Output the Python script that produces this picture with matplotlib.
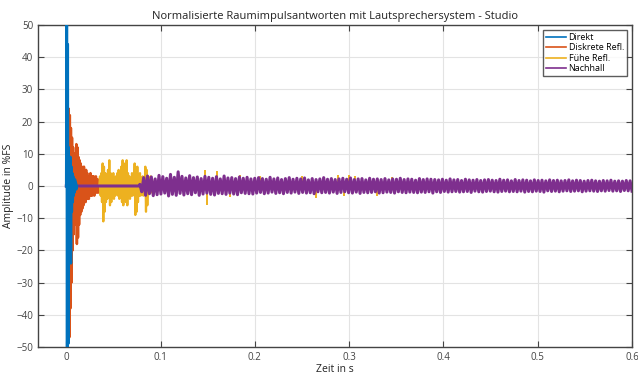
import numpy as np
import matplotlib
matplotlib.use("Agg")
import matplotlib.pyplot as plt

plt.rcParams['font.family'] = ['Open Sans', 'DejaVu Sans']

# --- data (amplitude in %FS) ---
direkt_t = (0.0, 0.011)
direkt = [0, 52, -50, 44, -49, 12, -20, 8, -10, 9, -24, 6, -8, 4, -5, 3,
          -3, 2, -2, 2, -1, 1, -1, 0]

diskret_t = (0.002, 0.036)
diskret = [0, 24, -47, 22, -38, 18, -30, 15, -20, 12, -15, 10, -12, 8, -10, 13,
           -18, 12, -16, 9, -12, 8, -9, 7, -8, 6, -7, 5, -6, 6, -5, 4, -5, 5,
           -4, 4, -4, 3, -4, 3, -3, 4, -3, 3, -3, 3, -2, 3, -3, 2, -2, 3, -2,
           2, -2, 2, -2, 1, -1, 0]

fruehe_t = (0.035, 0.093)
fruehe = [0, 3, -3, 4, -5, 7, -11, 6, -8, 4, -5, 3, -4, 5, -3, 8, -6, 4, -5, 3,
          -3, 4, -4, 2, -3, 3, -2, 4, -3, 5, -4, 3, -3, 6, -5, 8, -6, 7, -4, 5,
          -5, 8, -6, 4, -3, 3, -4, 2, -3, 4, -3, 3, -2, 7, -9, 5, -8, 6, -5, 3,
          -3, 4, -3, 2, -2, 3, -3, 2, -2, 6, -8, 5, -6, 3, -2, 2, -2, 3, -2, 2,
          -1, 1, 0]
# isolated late early-reflection spikes poking out of the reverb tail
fruehe_spike_t = [0.1475, 0.149, 0.160, 0.174, 0.184, 0.205, 0.250, 0.265,
                  0.288, 0.295, 0.300, 0.306, 0.330, 0.345]
fruehe_spike_a = [5.0, -6.0, 4.5, -3.5, 3.5, 3.2, 3.0, -3.6, 3.5, -3.2, 3.4,
                  3.0, -3.0, 2.8]

nachhall_t = (0.078, 0.6)
nachhall = [
    0.5, -1.8, 2.6, -2.9, 3.1, -2.4, 2.8, -3.0, 2.2, -2.7, 3.3, -2.5, 2.9, -2.2,
    2.4, -3.1, 3.6, -2.6, 2.7, -2.9, 4.4, -2.3, 3.0, -2.8, 2.5, -2.4, 3.2, -2.7,
    2.6, -2.1, 2.8, -2.9, 2.3, -2.5, 3.0, -2.2, 2.7, -2.6, 2.4, -2.8, 2.9, -2.3,
    2.2, -2.4, 3.1, -2.6, 2.5, -2.2, 2.6, -2.5, 2.3, -2.7, 2.8, -2.1, 2.4, -2.3,
    2.7, -2.4, 2.2, -2.5,
    2.4, -2.2, 2.6, -2.0, 2.3, -2.4, 2.1, -2.2, 2.7, -1.9, 2.2, -2.3, 2.5, -2.1,
    2.0, -2.4, 2.3, -2.0, 2.6, -2.2, 2.1, -1.9, 2.4, -2.3, 2.2, -2.0, 2.5, -2.2,
    1.9, -2.1, 2.3, -2.4, 2.0, -1.8, 2.2, -2.1, 2.6, -2.0, 2.1, -2.2, 2.3, -1.9,
    2.0, -2.3, 2.2, -2.0, 2.4, -1.8, 2.1, -2.1, 2.5, -2.2, 2.0, -1.9, 2.2, -2.3,
    2.3, -2.0, 1.9, -2.1, 2.4, -2.0, 2.1, -1.8, 2.2, -2.2, 2.0, -2.1, 2.3, -1.9,
    1.9, -2.0, 2.2, -2.2, 2.1, -1.8, 2.4, -2.0, 2.0, -2.1, 2.2, -1.9, 2.1, -2.0,
    1.8, -2.1, 2.3, -1.9, 2.0, -2.0, 2.2, -1.8, 2.1, -2.2,
    2.0, -1.8, 1.9, -2.0, 2.1, -1.7, 1.8, -1.9, 2.2, -1.8, 1.9, -1.7, 2.0, -1.9,
    1.7, -1.8, 2.1, -1.7, 1.9, -2.0, 1.8, -1.6, 2.0, -1.8, 1.7, -1.9, 1.9, -1.7,
    2.0, -1.6, 1.8, -1.8, 1.7, -1.9, 2.1, -1.7, 1.8, -1.6, 1.9, -1.8, 1.6, -1.7,
    2.0, -1.8, 1.7, -1.6, 1.9, -1.9, 1.8, -1.7, 1.6, -1.8, 1.9, -1.6, 1.7, -1.7,
    1.8, -1.9, 1.6, -1.5, 1.9, -1.7, 1.7, -1.6, 1.8, -1.8, 1.6, -1.6, 1.7, -1.5,
    1.9, -1.7, 1.6, -1.6, 1.8, -1.5, 1.7, -1.8, 1.5, -1.6, 1.7, -1.5, 1.8, -1.6,
    1.6, -1.7, 1.5, -1.5, 1.7, -1.6, 1.6, -1.4, 1.8, -1.6, 1.5, -1.5, 1.6, -1.7,
    1.5, -1.4, 1.7, -1.5, 1.6, -1.6,
]

labels = ['Direkt', 'Diskrete Refl.', 'Fühe Refl.', 'Nachhall']
colors = ['#0072BD', '#D95319', '#EDB120', '#7E2F8E']

fig = plt.figure(figsize=(6.38, 3.74), dpi=100)
ax = fig.add_axes([0.0596, 0.0722, 0.931, 0.861])

t = np.linspace(*direkt_t, len(direkt))
ax.plot(t, direkt, color=colors[0], lw=2.0, label=labels[0], zorder=3)

t = np.linspace(*diskret_t, len(diskret))
ax.plot(np.r_[0.0, t], np.r_[0.0, diskret], color=colors[1], lw=1.8, label=labels[1])

t = np.linspace(*fruehe_t, len(fruehe))
ax.plot(np.r_[0.0, t], np.r_[0.0, fruehe], color=colors[2], lw=1.6, label=labels[2])
ax.vlines(fruehe_spike_t, 0, fruehe_spike_a, color=colors[2], lw=1.4)

t = np.linspace(*nachhall_t, len(nachhall))
ax.plot(np.r_[0.0, t[0] - 0.001, t], np.r_[0.0, 0.0, nachhall],
        color=colors[3], lw=2.2, label=labels[3])

ax.set_xlim(-0.03, 0.6)
ax.set_ylim(-50, 50)
ax.set_xticks(np.arange(0, 0.61, 0.1))
ax.set_xticklabels(['0', '0.1', '0.2', '0.3', '0.4', '0.5', '0.6'])
ax.set_yticks(np.arange(-50, 51, 10))
ax.grid(True, color='#e3e3e3', lw=0.8)
ax.set_axisbelow(True)
ax.tick_params(direction='in', top=True, right=True, labelsize=7,
               colors='#444444', length=4, width=0.8)
for s in ax.spines.values():
    s.set_color('#444444')
    s.set_linewidth(1.0)

ax.set_title('Normalisierte Raumimpulsantworten mit Lautsprechersystem - Studio',
             fontsize=8, pad=4, color='#222222')
ax.set_xlabel('Zeit in s', fontsize=7.5, labelpad=1, color='#222222')
ax.set_ylabel('Amplitude in %FS', fontsize=7.5, labelpad=2, color='#222222')

leg = ax.legend(loc='upper right', fontsize=6.5, frameon=True, fancybox=False,
                handlelength=2.2, handletextpad=0.3, borderpad=0.3,
                labelspacing=0.15, borderaxespad=0.6)
for line in leg.get_lines():
    line.set_linewidth(1.2)
leg.get_frame().set_edgecolor('#333333')
leg.get_frame().set_linewidth(1.0)

fig.savefig('out.png', dpi=100)
